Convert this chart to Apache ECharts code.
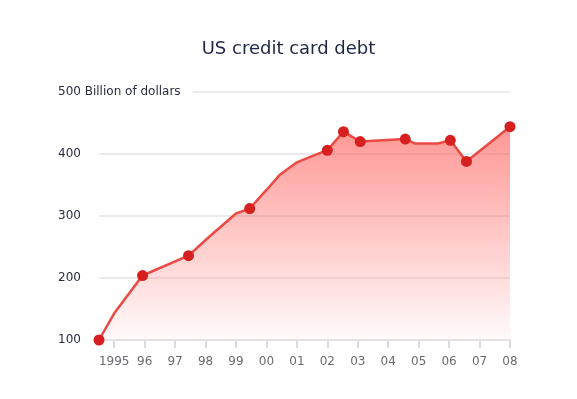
<!DOCTYPE html>
<html>
<head>
<meta charset="utf-8">
<script src="https://cdn.jsdelivr.net/npm/echarts@6/dist/echarts.min.js"></script>
<style>html,body{margin:0;padding:0;background:#fff}#c{width:577px;height:399px}</style>
</head>
<body>
<div id="c"></div>
<script>
// Data
const years  = [1994.5, 1995.0, 1995.93, 1997.44, 1998.13, 1999.0, 1999.45, 2000.0, 2000.43, 2000.98, 2001.52, 2002.0, 2002.53, 2003.08, 2004.56, 2004.87, 2005.63, 2006.04, 2006.57, 2008.0];
const values = [100, 143, 204, 236, 267, 304, 312, 342, 366, 386, 397, 406, 436, 420, 424, 417, 417, 422, 388, 444];
const marked = [true, false, true, true, false, false, true, false, false, false, false, true, true, true, true, false, false, true, true, true];
const tickYears = [1995, 1996, 1997, 1998, 1999, 2000, 2001, 2002, 2003, 2004, 2005, 2006, 2007, 2008];
const yTicks = [100, 200, 300, 400, 500];
const yUnit = 'Billion of dollars';
const titleText = 'US credit card debt';

const FONT = 'DejaVu Sans';
const chart = echarts.init(document.getElementById('c'), null, {renderer: 'canvas'});
const seriesData = years.map((x, i) => ({
  value: [x, values[i]],
  symbol: marked[i] ? 'circle' : 'none'
}));

chart.setOption({
  animation: false,
  title: {
    text: titleText, left: 'center', top: 35,
    textStyle: {fontFamily: FONT, fontSize: 18, fontWeight: 'normal', color: '#1f2545'}
  },
  grid: {left: 99, right: 67, top: 92, bottom: 59},
  xAxis: {
    type: 'value', min: 1994.5, max: 2008,
    splitLine: {show: false},
    axisLine: {show: true, lineStyle: {color: '#dedee4', width: 2}},
    axisTick: {show: true, length: 8, customValues: tickYears, lineStyle: {color: '#cfcfd6', width: 1.5}},
    axisLabel: {
      customValues: tickYears, margin: 16,
      fontFamily: FONT, fontSize: 12, color: '#6b6b73',
      formatter: v => v === tickYears[0] ? String(v) : String(v).slice(2)
    }
  },
  yAxis: {
    type: 'value', min: yTicks[0], max: yTicks[yTicks.length - 1], interval: 100,
    axisLine: {show: false}, axisTick: {show: false},
    splitLine: {lineStyle: {color: '#e4e4e8', width: 1.5}},
    axisLabel: {
      align: 'left', margin: 41,
      fontFamily: FONT, fontSize: 12, color: '#2a2d40',
      formatter: v => v === yTicks[yTicks.length - 1] ? v + ' ' + yUnit : String(v),
      backgroundColor: '#fff', padding: [2, 12, 2, 0]
    },
    z: 1
  },
  series: [{
    type: 'line',
    data: seriesData,
    symbolSize: 11,
    itemStyle: {color: '#d6201f', borderWidth: 0},
    lineStyle: {color: '#ea4a43', width: 2.5},
    areaStyle: {
      color: new echarts.graphic.LinearGradient(0, 0, 0, 1, [
        {offset: 0, color: 'rgba(255,80,75,0.85)'},
        {offset: 1, color: 'rgba(255,80,75,0.04)'}
      ])
    },
    z: 2
  }]
});
</script>
</body>
</html>
